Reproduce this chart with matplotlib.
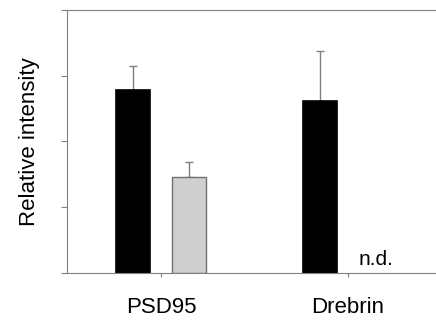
import numpy as np
import matplotlib
matplotlib.use("Agg")
import matplotlib.pyplot as plt

plt.rcParams['font.family'] = ['Liberation Sans', 'DejaVu Sans']

# Data
categories = ['PSD95', 'Drebrin']
black_vals = [2.78, 2.61]
black_err = [0.36, 0.76]
gray_vals = [1.46, np.nan]
gray_err = [0.23, np.nan]

x = np.arange(len(categories))
offset = 0.15
width = 0.18
edge = '#808080'
err_style = dict(ecolor=edge, elinewidth=1, capsize=3, capthick=1, zorder=1)

fig = plt.figure(figsize=(4.36, 3.2), dpi=100)
ax = fig.add_axes([0.1537, 0.147, 0.8463, 0.822])

ax.bar(x - offset, black_vals, width, color='black', edgecolor='black',
       linewidth=1.2, zorder=2,
       yerr=[np.zeros(len(black_err)), black_err], error_kw=err_style)
ax.bar(x[:1] + offset, gray_vals[:1], width, color='#cfcfcf', edgecolor='#707070',
       linewidth=1.0, zorder=2,
       yerr=[[0], gray_err[:1]], error_kw=err_style)
ax.text(x[1] + offset, 0.12, 'n.d.', ha='center', va='baseline', fontsize=15)

ax.set_xlim(-0.503, 1.47)
ax.set_ylim(0, 4)
ax.set_yticks([0, 1, 2, 3, 4])
ax.set_yticklabels([])
ax.set_xticks(x)
ax.set_xticklabels(categories, fontsize=16)
ax.tick_params(axis='x', length=3, pad=14, color=edge)
ax.tick_params(axis='y', length=4, color=edge)
ax.set_ylabel('Relative intensity', fontsize=16, labelpad=12)

for s in ['left', 'bottom', 'top']:
    ax.spines[s].set_color(edge)
ax.spines['right'].set_visible(False)

fig.savefig('out.png', dpi=100)
